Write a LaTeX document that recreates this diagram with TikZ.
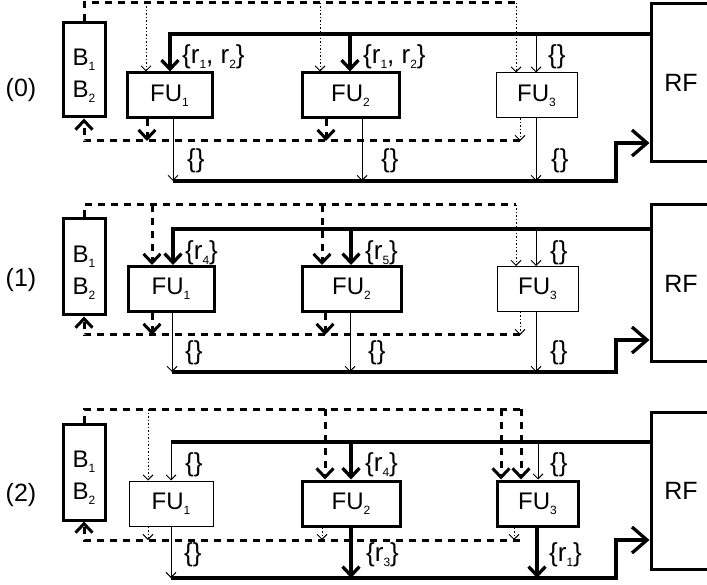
\documentclass[tikz,border=0pt]{standalone}
\usepackage{fontspec}
\setmainfont{Liberation Sans}
\usetikzlibrary{arrows.meta}
\newcommand{\sbx}[1]{\raisebox{-5pt}{\fontsize{12}{12}\selectfont #1}}
\tikzset{
  fubox/.style={draw, line width=3pt, minimum height=45pt, inner sep=0pt, font=\fontsize{24}{29}\selectfont},
  futhin/.style={fubox, line width=1pt},
  bbox/.style={draw, line width=3pt, minimum width=42pt, inner sep=0pt},
  btxt/.style={align=center, inner sep=0pt, yshift=-6pt, font=\fontsize{24}{32}\selectfont},
  rfbox/.style={draw, line width=3pt, minimum width=60pt, inner sep=0pt, font=\fontsize{25}{29}\selectfont},
  plab/.style={font=\fontsize{25}{30}\selectfont, inner sep=0pt},
  lab/.style={font=\fontsize{26}{30}\selectfont, inner sep=0pt, anchor=west},
  bus/.style={line width=3.3pt},
  thinln/.style={line width=1pt},
  dsh/.style={dash pattern=on 7pt off 6pt, line width=3pt},
  dotln/.style={line width=1pt, dash pattern=on 1.5pt off 2pt},
  bigtip/.style={-{Straight Barb[length=9pt,width=17pt]}},
  smalltip/.style={-{Straight Barb[length=5pt,width=10pt]}},
  rftip/.style={-{Straight Barb[length=15pt,width=26pt]}},
}
\begin{document}
\begin{tikzpicture}[x=1pt,y=-1pt]
\useasboundingbox (0,0) rectangle (707,585);
\clip (0,0) rectangle (707,585);
\fill[white] (0,0) rectangle (707,585);

% ================= Panel (0) =================
\node[plab] (P0) at (21,90) {(0)};
\node[bbox, minimum height=94pt, label={[btxt]center:B\sbx{1}\\B\sbx{2}}] (B0) at (84,70) {};
\node[fubox, minimum width=85pt] (F01) at (169.5,95.5) {FU\sbx{1}};
\node[fubox, minimum width=97pt] (F02) at (350.5,95.5) {FU\sbx{2}};
\node[futhin, minimum width=81pt] (F03) at (536.5,95.5) {FU\sbx{3}};
\node[rfbox, minimum height=158pt] (R0) at (681,83) {RF};

\coordinate (t0) at (84,3);
\coordinate (t0e) at (516,3);
\coordinate (t01) at (146,3);
\coordinate (t02) at (320,3);
\draw[dsh] (B0.north) -- (t0) -- (t0e);
\draw[dotln,smalltip] (t0e) -- (t0e |- F03.north);
\draw[dotln,smalltip] (t01) -- (t01 |- F01.north);
\draw[dotln,smalltip] (t02) -- (t02 |- F02.north);

\coordinate (u01) at (170,34);
\coordinate (u02) at (350,34);
\coordinate (u03) at (536,34);
\draw[bus,bigtip] (R0.west |- u01) -- (u01) -- (u01 |- F01.north);
\draw[bus,bigtip] (u02) -- (u02 |- F02.north);
\draw[thinln,smalltip] (u03) -- (u03 |- F03.north);
\node[lab] (a01) at (182,57) {\{r\sbx{1}, r\sbx{2}\}};
\node[lab] (a02) at (363,57) {\{r\sbx{1}, r\sbx{2}\}};
\node[lab] (a03) at (548,57) {\{\}};

\coordinate (d0) at (84,141);
\coordinate (d0e) at (520,141);
\coordinate (d01) at (147,141);
\coordinate (d02) at (326,141);
\draw[dsh,bigtip] (d0e) -- (d0) -- (B0.south);
\draw[dsh,bigtip] (d01 |- F01.south) -- (d01);
\draw[dsh,bigtip] (d02 |- F02.south) -- (d02);
\draw[dotln,smalltip] (d0e |- F03.south) -- (d0e);

\coordinate (o01) at (173,181);
\coordinate (o02) at (362,181);
\coordinate (o03) at (536,181);
\coordinate (s0) at (616,181);
\coordinate (s0b) at (616,143);
\draw[thinln,smalltip] (o01 |- F01.south) -- (o01);
\draw[thinln,smalltip] (o02 |- F02.south) -- (o02);
\draw[thinln,smalltip] (o03 |- F03.south) -- (o03);
\draw[bus,rftip] (o01) -- (s0) -- (s0b) -- (R0.west |- s0b);
\node[lab] (b01) at (187,161) {\{\}};
\node[lab] (b02) at (381,161) {\{\}};
\node[lab] (b03) at (551,161) {\{\}};

% ================= Panel (1) =================
\node[plab] (P1) at (21,280) {(1)};
\node[bbox, minimum height=96pt, label={[btxt]center:B\sbx{1}\\B\sbx{2}}] (B1) at (84,267) {};
\node[fubox, minimum width=86pt] (F11) at (171,289) {FU\sbx{1}};
\node[fubox, minimum width=99pt] (F12) at (351.5,289) {FU\sbx{2}};
\node[futhin, minimum width=81pt] (F13) at (537.5,289) {FU\sbx{3}};
\node[rfbox, minimum height=157pt] (R1) at (681,283.5) {RF};

\coordinate (t1) at (84,205);
\coordinate (t1e) at (516,205);
\coordinate (t11) at (152,205);
\coordinate (t12) at (322,205);
\draw[dsh] (B1.north) -- (t1) -- (t1e);
\draw[dotln,smalltip] (t1e) -- (t1e |- F13.north);
\draw[dsh,bigtip] (t11) -- (t11 |- F11.north);
\draw[dsh,bigtip] (t12) -- (t12 |- F12.north);

\coordinate (u11) at (173,229);
\coordinate (u12) at (351,229);
\coordinate (u13) at (536,229);
\draw[bus,bigtip] (R1.west |- u11) -- (u11) -- (u11 |- F11.north);
\draw[bus,bigtip] (u12) -- (u12 |- F12.north);
\draw[thinln,smalltip] (u13) -- (u13 |- F13.north);
\node[lab] (a11) at (185,253) {\{r\sbx{4}\}};
\node[lab] (a12) at (365,253) {\{r\sbx{5}\}};
\node[lab] (a13) at (550,253) {\{\}};

\coordinate (d1) at (84,335);
\coordinate (d1e) at (520,335);
\coordinate (d11) at (152,335);
\coordinate (d12) at (325,335);
\draw[dsh,bigtip] (d1e) -- (d1) -- (B1.south);
\draw[dsh,bigtip] (d11 |- F11.south) -- (d11);
\draw[dsh,bigtip] (d12 |- F12.south) -- (d12);
\draw[dotln,smalltip] (d1e |- F13.south) -- (d1e);

\coordinate (o11) at (172,372);
\coordinate (o12) at (350,372);
\coordinate (o13) at (536,372);
\coordinate (s1) at (616,372);
\coordinate (s1b) at (616,340);
\draw[thinln,smalltip] (o11 |- F11.south) -- (o11);
\draw[thinln,smalltip] (o12 |- F12.south) -- (o12);
\draw[thinln,smalltip] (o13 |- F13.south) -- (o13);
\draw[bus,rftip] (o11) -- (s1) -- (s1b) -- (R1.west |- s1b);
\node[lab] (b11) at (185,353) {\{\}};
\node[lab] (b12) at (368,353) {\{\}};
\node[lab] (b13) at (550,353) {\{\}};

% ================= Panel (2) =================
\node[plab] (P2) at (21,495) {(2)};
\node[bbox, minimum height=96pt, label={[btxt]center:B\sbx{1}\\B\sbx{2}}] (B2) at (84,472) {};
\node[futhin, minimum width=84pt] (F21) at (171,503.5) {FU\sbx{1}};
\node[fubox, minimum width=98pt] (F22) at (351,503.5) {FU\sbx{2}};
\node[fubox, minimum width=81pt] (F23) at (537.5,503.5) {FU\sbx{3}};
\node[rfbox, minimum height=157pt] (R2) at (681,490.5) {RF};

\coordinate (t2) at (84,409);
\coordinate (t2e) at (521,409);
\coordinate (t2d) at (501,409);
\coordinate (t21) at (148,409);
\coordinate (t22) at (325,409);
\draw[dsh] (B2.north) -- (t2) -- (t2e);
\draw[dsh,bigtip] (t2e) -- (t2e |- F23.north);
\draw[dsh,bigtip] (t2d) -- (t2d |- F23.north);
\draw[dotln,smalltip] (t21) -- (t21 |- F21.north);
\draw[dsh,bigtip] (t22) -- (t22 |- F22.north);

\coordinate (u21) at (171,442);
\coordinate (u22) at (351,442);
\coordinate (u23) at (538,442);
\draw[bus] (R2.west |- u21) -- (u21);
\draw[thinln,smalltip] (u21) -- (u21 |- F21.north);
\draw[bus,bigtip] (u22) -- (u22 |- F22.north);
\draw[thinln,smalltip] (u23) -- (u23 |- F23.north);
\node[lab] (a21) at (185,465) {\{\}};
\node[lab] (a22) at (365,465) {\{r\sbx{4}\}};
\node[lab] (a23) at (550,465) {\{\}};

\coordinate (d2) at (84,540);
\coordinate (d2e) at (520,540);
\coordinate (d21) at (148,540);
\coordinate (d22) at (322,540);
\coordinate (d23) at (514,540);
\draw[dsh,bigtip] (d2e) -- (d2) -- (B2.south);
\draw[dotln,smalltip] (d21 |- F21.south) -- (d21);
\draw[dotln,smalltip] (d22 |- F22.south) -- (d22);
\draw[dotln,smalltip] (d23 |- F23.south) -- (d23);

\coordinate (o21) at (171,578);
\coordinate (o22) at (351,578);
\coordinate (o23) at (537,578);
\coordinate (s2) at (616,578);
\coordinate (s2b) at (616,540);
\draw[thinln,smalltip] (o21 |- F21.south) -- (o21);
\draw[bus,bigtip] (o22 |- F22.south) -- (o22);
\draw[bus,bigtip] (o23 |- F23.south) -- (o23);
\draw[bus,rftip] (o21) -- (s2) -- (s2b) -- (R2.west |- s2b);
\node[lab] (b21) at (184,555) {\{\}};
\node[lab] (b22) at (366,555) {\{r\sbx{3}\}};
\node[lab] (b23) at (549,555) {\{r\sbx{1}\}};
\end{tikzpicture}
\end{document}
